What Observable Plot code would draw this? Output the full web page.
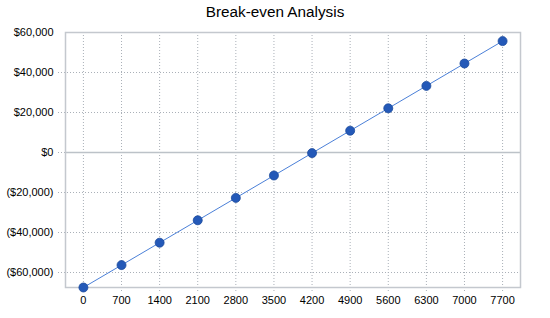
<!DOCTYPE html>
<html>
<head>
<meta charset="utf-8">
<script src="https://cdn.jsdelivr.net/npm/d3@7"></script>
<script src="https://cdn.jsdelivr.net/npm/@observablehq/plot@0.6"></script>
<style>
  html, body { margin: 0; padding: 0; background: #fff; }
  #title { width: 550px; height: 20px; line-height: 24px; text-align: center; font-family: "Liberation Sans", Arial, sans-serif; font-size: 15.3px; color: #000; overflow: visible; }
  #chart svg { display: block; }
</style>
</head>
<body>
<div id="title">Break-even Analysis</div>
<div id="chart"></div>
<script>
const units = ["0", "700", "1400", "2100", "2800", "3500", "4200", "4900", "5600", "6300", "7000", "7700"];
const profit = [-67500, -56300, -45100, -33900, -22700, -11500, -300, 10900, 22100, 33300, 44500, 55700];
const yTicks = [-60000, -40000, -20000, 0, 20000, 40000, 60000];
const yDomain = [-67500, 60000];

const data = units.map((u, i) => ({units: u, profit: profit[i]}));
const fmt = v => v < 0 ? "($" + d3.format(",")(-v) + ")" : "$" + d3.format(",")(v);
const gridColor = "#aab0b8";

const chart = Plot.plot({
  width: 550,
  height: 298,
  marginTop: 12,
  marginBottom: 31,
  marginLeft: 65,
  marginRight: 30,
  style: {fontFamily: "'Liberation Sans', Arial, sans-serif", fontSize: "11px", color: "#000", background: "#fff", overflow: "visible"},
  x: {type: "point", domain: units, padding: 0.47, round: false},
  y: {domain: yDomain},
  marks: [
    Plot.ruleX(units, {x: d => d, stroke: gridColor, strokeDasharray: "1,2", insetBottom: -5}),
    Plot.ruleY(yTicks.filter(t => t !== 0 && t !== 60000), {y: d => d, stroke: gridColor, strokeDasharray: "1,2", insetLeft: -7}),
    Plot.ruleY([0], {stroke: "#bcc2c8", strokeWidth: 1.5}),
    Plot.ruleY([0], {stroke: gridColor, strokeDasharray: "1,2", insetLeft: -7, insetRight: 455}),
    Plot.frame({stroke: "#c4c8ce", strokeWidth: 1.5}),
    Plot.axisY({ticks: yTicks, tickFormat: fmt, tickSize: 0, tickPadding: 12, label: null}),
    Plot.axisX({tickSize: 0, tickPadding: 9, label: null}),
    Plot.line(data, {x: "units", y: "profit", stroke: "#4b80d8", strokeWidth: 1}),
    Plot.dot(data, {x: "units", y: "profit", r: 4.5, fill: "#2459b8", stroke: "#1c4a9c", strokeWidth: 0.8})
  ]
});
document.getElementById("chart").appendChild(chart);
</script>
</body>
</html>
